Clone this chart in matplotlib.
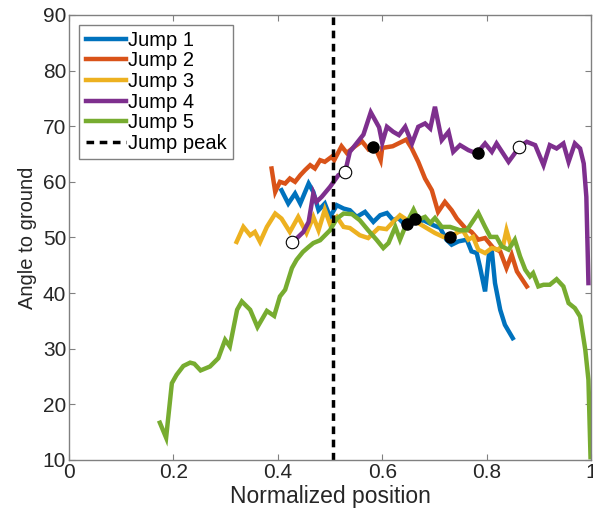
import matplotlib
matplotlib.use("Agg")
import matplotlib.pyplot as plt

plt.rcParams["font.family"] = ["Liberation Sans", "DejaVu Sans"]

# values
x1 = [0.407, 0.420, 0.433, 0.443, 0.459, 0.468, 0.478, 0.490, 0.500, 0.513, 0.526, 0.538, 0.551,
      0.567, 0.583, 0.596, 0.609, 0.621, 0.631, 0.644, 0.660, 0.679, 0.698, 0.711, 0.723, 0.733,
      0.746, 0.762, 0.771, 0.781, 0.787, 0.797, 0.805, 0.810, 0.816, 0.826, 0.835, 0.850]
y1 = [58.5, 56.1, 57.9, 56.1, 59.7, 58.2, 54.9, 56.1, 53.7, 55.8, 55.2, 54.9, 53.7,
      54.6, 52.8, 54.0, 54.4, 53.1, 53.5, 52.2, 52.6, 53.1, 52.2, 51.7, 49.6, 48.7,
      49.3, 49.6, 47.5, 47.2, 44.8, 40.3, 47.5, 47.5, 41.8, 37.0, 34.3, 31.9]

x2 = [0.388, 0.395, 0.404, 0.414, 0.423, 0.433, 0.443, 0.452, 0.462, 0.471, 0.481, 0.490, 0.503,
      0.508, 0.522, 0.532, 0.548, 0.561, 0.574, 0.587, 0.597, 0.600, 0.620, 0.633, 0.646, 0.656,
      0.669, 0.682, 0.695, 0.707, 0.720, 0.733, 0.743, 0.759, 0.771, 0.784, 0.797, 0.813, 0.826,
      0.838, 0.848, 0.858, 0.877]
y2 = [62.4, 58.2, 60.0, 59.7, 60.6, 60.0, 61.2, 62.1, 63.0, 62.4, 63.9, 63.6, 64.5,
      63.9, 66.4, 65.2, 66.4, 67.3, 65.8, 66.1, 63.9, 66.1, 66.4, 67.0, 67.6, 66.1,
      63.6, 60.6, 58.5, 54.6, 56.4, 54.9, 53.4, 51.7, 51.0, 49.6, 49.9, 48.1, 47.5,
      44.5, 46.9, 43.9, 41.2]

x3 = [0.321, 0.334, 0.347, 0.356, 0.366, 0.379, 0.395, 0.407, 0.423, 0.439, 0.455, 0.468, 0.478,
      0.490, 0.500, 0.513, 0.526, 0.538, 0.557, 0.573, 0.593, 0.608, 0.621, 0.634, 0.650, 0.669,
      0.685, 0.701, 0.717, 0.730, 0.746, 0.755, 0.765, 0.774, 0.784, 0.797, 0.810, 0.822, 0.832,
      0.838, 0.845]
y3 = [49.2, 51.9, 50.4, 51.0, 49.2, 51.9, 54.3, 53.4, 51.0, 53.7, 50.8, 53.7, 51.3,
      55.0, 52.4, 53.7, 51.9, 51.7, 50.4, 49.9, 51.7, 51.5, 52.8, 54.0, 53.0, 52.6,
      51.7, 50.8, 50.1, 50.1, 51.0, 51.2, 49.6, 50.1, 47.8, 47.2, 48.1, 47.8, 48.7,
      51.3, 49.0]

x4 = [0.428, 0.449, 0.459, 0.468, 0.474, 0.484, 0.500, 0.516, 0.529, 0.538, 0.564, 0.578, 0.594,
      0.600, 0.609, 0.621, 0.632, 0.644, 0.657, 0.669, 0.682, 0.692, 0.701, 0.714, 0.727, 0.736,
      0.749, 0.765, 0.781, 0.797, 0.810, 0.819, 0.842, 0.863, 0.877, 0.893, 0.909, 0.921, 0.934,
      0.947, 0.957, 0.969, 0.979, 0.986, 0.991, 0.995]
y4 = [49.1, 51.0, 52.8, 57.9, 56.4, 57.3, 59.1, 61.2, 61.8, 65.4, 68.5, 72.5, 69.8,
      67.0, 69.9, 69.0, 68.4, 69.9, 66.9, 69.9, 70.5, 69.6, 73.5, 67.5, 69.0, 65.4,
      66.6, 65.7, 65.1, 66.9, 65.4, 66.9, 63.6, 66.3, 67.2, 66.6, 63.0, 66.6, 66.0,
      66.9, 63.6, 66.9, 66.0, 63.3, 57.3, 41.8]

x5 = [0.174, 0.186, 0.197, 0.206, 0.219, 0.232, 0.240, 0.252, 0.270, 0.286, 0.299, 0.308, 0.322,
      0.331, 0.347, 0.361, 0.379, 0.393, 0.404, 0.414, 0.427, 0.436, 0.448, 0.459, 0.468, 0.481,
      0.500, 0.513, 0.526, 0.542, 0.557, 0.573, 0.589, 0.602, 0.612, 0.625, 0.634, 0.647, 0.660,
      0.669, 0.682, 0.692, 0.701, 0.714, 0.730, 0.749, 0.762, 0.784, 0.797, 0.807, 0.819, 0.829,
      0.842, 0.854, 0.864, 0.874, 0.883, 0.889, 0.899, 0.909, 0.921, 0.934, 0.947, 0.957, 0.969,
      0.979, 0.989, 0.995, 0.999]
y5 = [16.7, 14.0, 23.8, 25.3, 26.9, 27.5, 27.3, 26.1, 26.8, 28.3, 31.6, 30.4, 37.0,
      38.5, 37.0, 33.9, 36.8, 35.9, 39.4, 40.6, 44.5, 46.0, 47.4, 48.3, 49.0, 49.5,
      51.3, 53.4, 54.3, 54.2, 53.1, 51.3, 49.6, 48.1, 49.0, 51.9, 49.6, 52.6, 55.0,
      53.2, 53.7, 52.6, 53.5, 51.9, 51.9, 51.3, 51.3, 54.4, 51.9, 50.1, 50.1, 48.4,
      47.8, 49.6, 46.6, 44.2, 43.0, 43.6, 41.2, 41.5, 41.5, 42.5, 41.2, 38.2, 37.3,
      35.8, 29.8, 24.4, 10.5]

filled_x = [0.583, 0.647, 0.663, 0.729, 0.784]
filled_y = [66.3, 52.5, 53.4, 50.1, 65.2]
open_x = [0.428, 0.529, 0.862]
open_y = [49.1, 61.8, 66.3]
peak_x = 0.505

series = [(x1, y1, "Jump 1", "#0072BD"), (x2, y2, "Jump 2", "#D95319"),
          (x3, y3, "Jump 3", "#EDB120"), (x4, y4, "Jump 4", "#7E2F8E"),
          (x5, y5, "Jump 5", "#77AC30")]

fig = plt.figure(figsize=(5.93, 5.18), dpi=100)
ax = fig.add_axes([0.1164, 0.112, 0.8803, 0.8591])

for x, y, lab, c in series:
    ax.plot(x, y, color=c, lw=3.2, label=lab, solid_joinstyle="miter")
ax.axvline(peak_x, color="black", lw=2.5, ls=(0, (2.2, 1.6)), label="Jump peak")
ax.plot(filled_x, filled_y, "o", color="black", ms=8, zorder=5)
ax.plot(open_x, open_y, "o", mfc="white", mec="black", mew=0.8, ms=9, zorder=5)

ax.set_xlim(0, 1)
ax.set_ylim(10, 90)
ax.set_xticks([0, 0.2, 0.4, 0.6, 0.8, 1])
ax.set_xticklabels(["0", "0.2", "0.4", "0.6", "0.8", "1"])
ax.set_yticks(range(10, 91, 10))
ax.tick_params(direction="in", top=True, right=True, length=4, width=0.8,
               color="#808080", labelsize=15, labelcolor="#262626", pad=2)
for s in ax.spines.values():
    s.set_color("#808080")
    s.set_linewidth(1.0)
ax.set_xlabel("Normalized position", fontsize=16.5, color="#262626", labelpad=2)
ax.set_ylabel("Angle to ground", fontsize=14.5, color="#262626", labelpad=4)

leg = ax.legend(loc="upper left", bbox_to_anchor=(0.02, 0.978), fontsize=14.5,
                handlelength=2.0, handletextpad=0.1, labelspacing=0.08,
                borderpad=0.3, borderaxespad=0, fancybox=False, framealpha=1)
leg.get_frame().set_edgecolor("#808080")
leg.get_frame().set_linewidth(1.0)

fig.savefig("out.png", dpi=100)
